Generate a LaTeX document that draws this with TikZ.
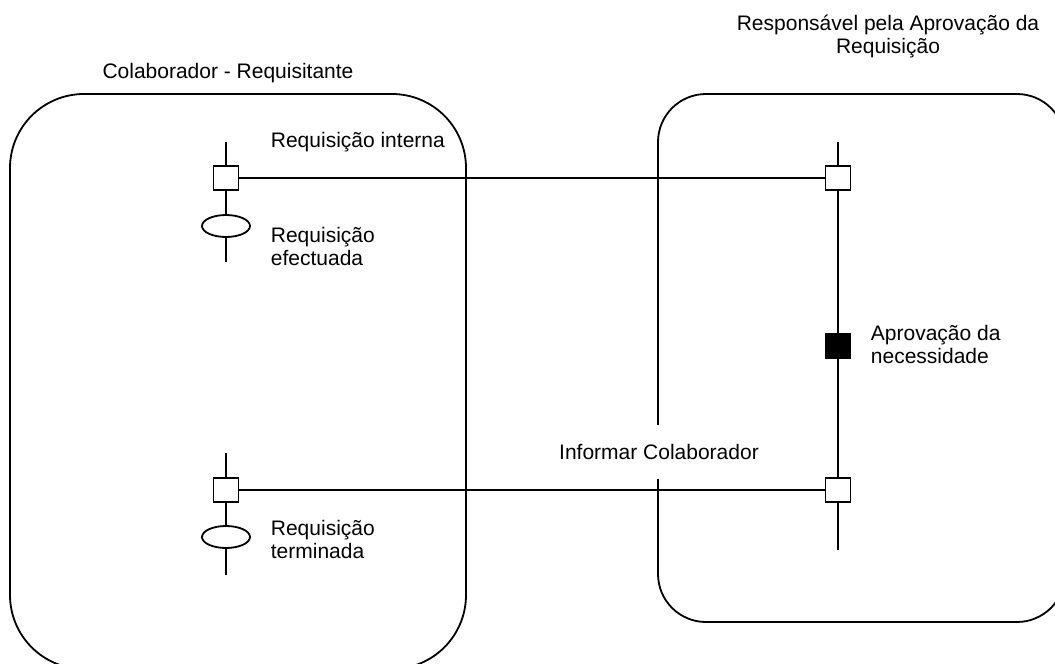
\documentclass[tikz,border=0pt]{standalone}
\usepackage{fontspec}
\setmainfont{Liberation Sans}
\usetikzlibrary{shapes.geometric}
\begin{document}
\begin{tikzpicture}[x=1pt,y=-1pt,
  line width=1.8pt,
  lane/.style={draw, rectangle, inner sep=0pt},
  port/.style={draw, fill=white, rectangle, minimum width=25pt, minimum height=24pt, inner sep=0pt},
  task/.style={port, fill=black},
  evt/.style={draw, fill=white, ellipse, minimum width=48pt, minimum height=22pt, inner sep=0pt},
  lbl/.style={font=\fontsize{21}{23}\selectfont, inner sep=0pt, align=left},
  ctr/.style={lbl, align=center},
]
\useasboundingbox (0,0) rectangle (1055,664);
\clip (0,0) rectangle (1055,664);
\fill[white] (0,0) rectangle (1055,664);

% swimlanes
\node[lane, rounded corners=74pt, minimum width=456pt, minimum height=575pt] (laneA) at (238,381.5) {};
\node[lane, rounded corners=48pt, minimum width=407pt, minimum height=528pt] (laneB) at (861.5,358) {};

% lane titles
\node[ctr] (titleA) at (228,73) {Colaborador - Requisitante};
\node[ctr] (titleB) at (888,36) {Responsável pela Aprovação da\\Requisição};

% message label (white backing breaks the lane border)
\node[ctr, fill=white, minimum height=54pt, inner xsep=4pt] (inform) at (659,452) {Informar Colaborador};

% requester lifeline: first interaction
\coordinate (a1top) at (226,142);
\coordinate (a1bot) at (226,262);
\node[port] (sq1) at (226,178) {};
\node[evt] (ev1) at (226,226) {};
\draw (a1top) -- (sq1) -- (ev1) -- (a1bot);

% requester lifeline: second interaction
\coordinate (a2top) at (226,453);
\coordinate (a2bot) at (226,575);
\node[port] (sq2) at (226,490) {};
\node[evt] (ev2) at (226,537) {};
\draw (a2top) -- (sq2) -- (ev2) -- (a2bot);

% approver lifeline
\coordinate (btop) at (838,142);
\coordinate (bbot) at (838,550);
\node[port] (sq3) at (838,178) {};
\node[task] (blk) at (838,346) {};
\node[port] (sq4) at (838,490) {};
\draw (btop) -- (sq3) -- (blk) -- (sq4) -- (bbot);

% messages
\draw (sq1) -- (sq3);
\draw (sq2) -- (sq4);

% labels
\node[lbl, anchor=west] (l1) at (270,142) {Requisição interna};
\node[lbl, anchor=west] (l2) at (270,246) {Requisição\\efectuada};
\node[lbl, anchor=west] (l3) at (270,539) {Requisição\\terminada};
\node[lbl, anchor=west] (l4) at (870,344) {Aprovação da\\necessidade};
\end{tikzpicture}
\end{document}
